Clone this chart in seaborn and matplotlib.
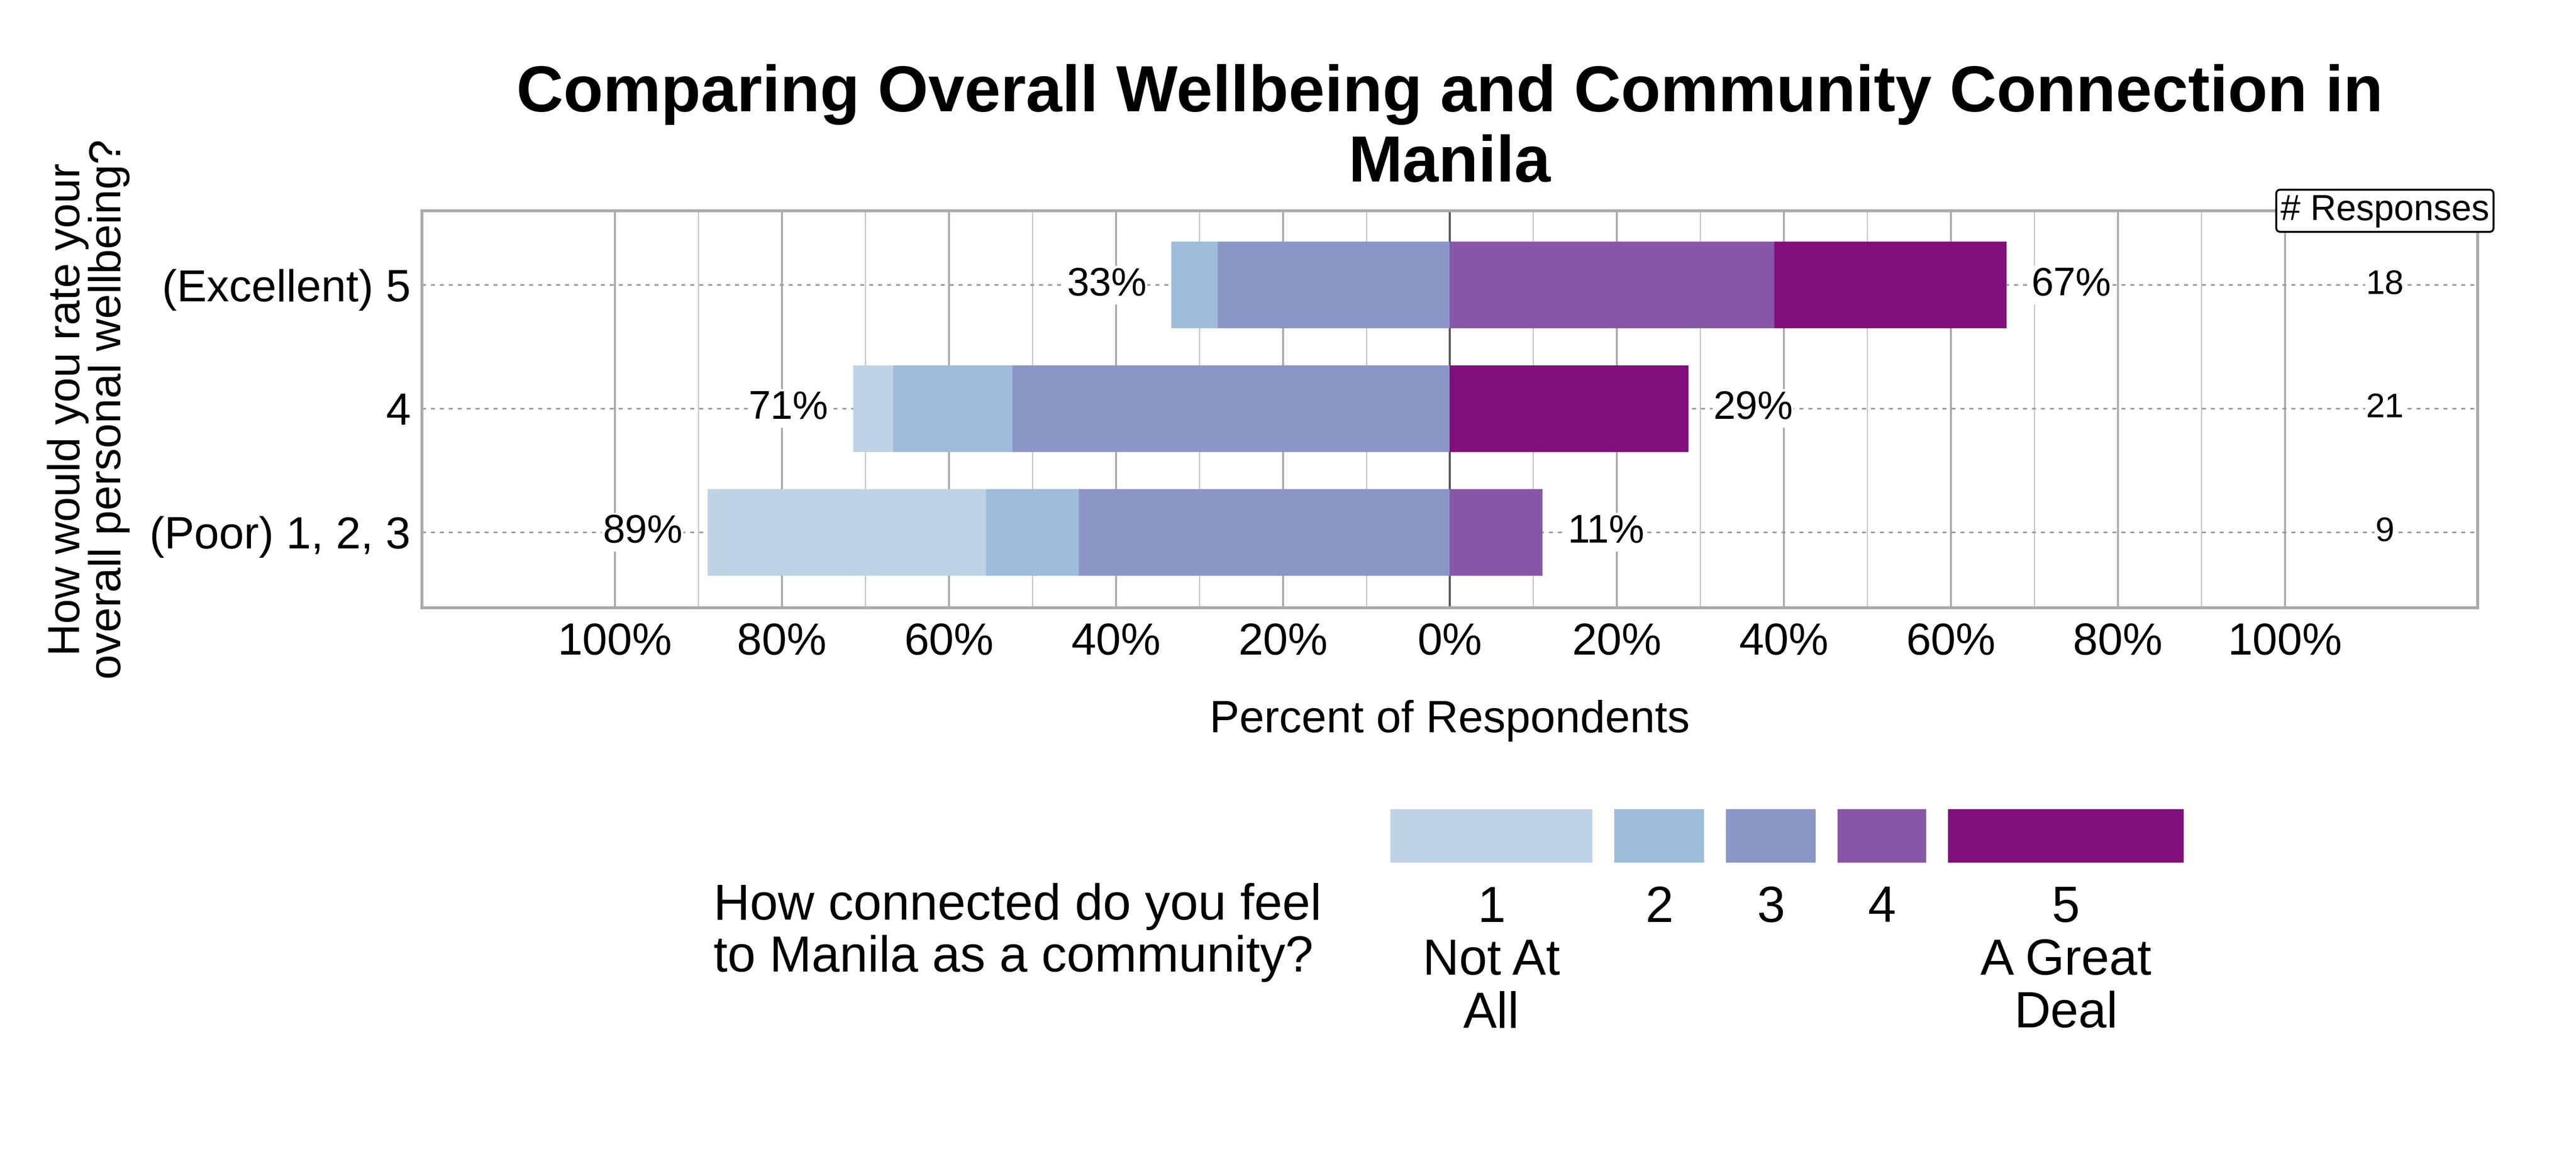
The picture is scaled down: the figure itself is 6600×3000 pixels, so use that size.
import numpy as np
import pandas as pd
import seaborn as sns
import matplotlib.pyplot as plt
from matplotlib.patches import Rectangle
from matplotlib.ticker import FixedLocator, FuncFormatter
import matplotlib.transforms as mtransforms

# data (counts of respondents)
wellbeing = ["(Excellent) 5", "4", "(Poor) 1, 2, 3"]
levels = ["1", "2", "3", "4", "5"]
level_labels = ["1\nNot At\nAll", "2", "3", "4", "5\nA Great\nDeal"]
counts_1 = [0, 1, 3]
counts_2 = [1, 3, 1]
counts_3 = [5, 11, 4]
counts_4 = [7, 0, 1]
counts_5 = [5, 6, 0]

colors = ["#bfd3e6", "#9ebcda", "#8c96c6", "#8856a7", "#810f7c"]

title = "Comparing Overall Wellbeing and Community Connection in\nManila"
y_title = "How would you rate your\noverall personal wellbeing?"
legend_title = "How connected do you feel\nto Manila as a community?"

sns.set_style("white")
plt.rcParams["font.family"] = ["Liberation Sans", "DejaVu Sans"]
plt.rcParams["text.color"] = "black"
plt.rcParams["axes.labelcolor"] = "black"
plt.rcParams["xtick.labelcolor"] = "black"
plt.rcParams["ytick.labelcolor"] = "black"

counts = pd.DataFrame(
    {"1": counts_1, "2": counts_2, "3": counts_3, "4": counts_4, "5": counts_5},
    index=wellbeing,
)
totals = counts.sum(axis=1)
shares = counts.div(totals, axis=0)

# levels 1-3 go to the left of zero, 4-5 to the right
left_total = shares[["1", "2", "3"]].sum(axis=1)
right_total = shares[["4", "5"]].sum(axis=1)
stack = [
    (-(shares["1"] + shares["2"] + shares["3"]), colors[0]),
    (-(shares["2"] + shares["3"]), colors[1]),
    (-shares["3"], colors[2]),
    (shares["4"] + shares["5"], colors[4]),
    (shares["4"], colors[3]),
]

fig = plt.figure(figsize=(22, 10), dpi=300)
ax = fig.add_axes([0.1638, 0.481, 0.7980, 0.339])

for values, c in stack:
    sns.barplot(
        x=values.values,
        y=wellbeing,
        order=wellbeing,
        orient="h",
        color=c,
        saturation=1,
        width=0.7,
        linewidth=0,
        ax=ax,
    )

ax.set_xlim(-1.231, 1.231)
ax.set_ylim(2.61, -0.60)

# grid
ax.set_axisbelow(True)
ax.xaxis.set_major_locator(FixedLocator(np.round(np.arange(-1, 1.01, 0.2), 2)))
ax.xaxis.set_minor_locator(FixedLocator(np.round(np.arange(-0.9, 1.0, 0.2), 2)))
ax.xaxis.set_major_formatter(FuncFormatter(lambda v, p: f"{abs(v) * 100:.0f}%"))
ax.grid(which="major", axis="x", color="#aaaaaa", lw=1.2)
ax.grid(which="minor", axis="x", color="#c4c4c4", lw=0.7)
ax.grid(which="major", axis="y", color="#9a9a9a", lw=1.0, linestyle=(0, (2.5, 3)))
ax.axvline(0, color="#555555", lw=1.3, zorder=0.6)

for s in ax.spines.values():
    s.set_visible(True)
    s.set_color("#aaaaaa")
    s.set_linewidth(1.8)

ax.tick_params(axis="x", which="major", length=5, width=1.1, color="#333333",
               labelsize=27.5, pad=4)
ax.tick_params(axis="x", which="minor", length=0)
ax.tick_params(axis="y", length=0, labelsize=27.5, pad=7)

ax.set_xlabel("Percent of Respondents", fontsize=27.5, labelpad=22)
ax.set_ylabel(y_title, fontsize=27.5, linespacing=0.98)
ax.yaxis.set_label_coords(-0.142, 0.5)
ax.set_title(title, fontsize=40, fontweight="bold", pad=18)

# percent labels and response counts
box = dict(facecolor="white", edgecolor="none", pad=0.5)
for i, name in enumerate(wellbeing):
    ax.text(-left_total[name] - 0.03, i, f"{left_total[name] * 100:.0f}%",
            ha="right", va="center", fontsize=24.5, bbox=box)
    ax.text(right_total[name] + 0.03, i, f"{right_total[name] * 100:.0f}%",
            ha="left", va="center", fontsize=24.5, bbox=box)
    ax.text(1.12, i, f"{totals[name]}", ha="center", va="center",
            fontsize=21, bbox=box)

trans = mtransforms.blended_transform_factory(ax.transData, ax.transAxes)
ax.text(1.12, 1.0, "# Responses", transform=trans, ha="center", va="center",
        fontsize=22, zorder=5,
        bbox=dict(boxstyle="round,pad=0.12", facecolor="white",
                  edgecolor="black", lw=1.2))

# legend drawn by hand: keys with labels underneath
W, H = 6600, 3000
key_widths = [518, 230, 230, 227, 604]
key_gap = 56
x0 = 3562
key_top, key_bottom = 2073, 2210
for w, c, lab in zip(key_widths, colors, level_labels):
    fig.add_artist(Rectangle((x0 / W, 1 - key_bottom / H), w / W,
                             (key_bottom - key_top) / H,
                             transform=fig.transFigure, facecolor=c,
                             edgecolor="none"))
    fig.text((x0 + w / 2) / W, 1 - 2268 / H, lab, ha="center", va="top",
             fontsize=31, linespacing=1.15)
    x0 += w + key_gap

fig.text(1828 / W, 1 - 2262 / H, legend_title, ha="left", va="top",
         fontsize=31, linespacing=1.13)

fig.savefig("out.png", dpi=300)
